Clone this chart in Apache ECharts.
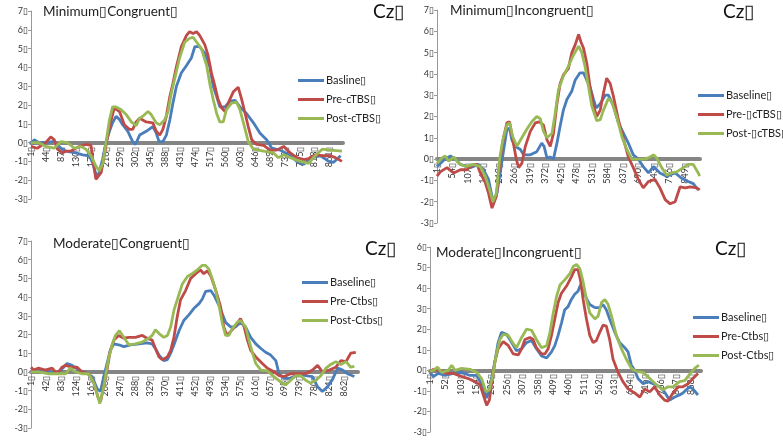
<!DOCTYPE html>
<html><head><meta charset="utf-8">
<script src="https://cdn.jsdelivr.net/npm/echarts@6/dist/echarts.min.js"></script>
<style>html,body{margin:0;padding:0;background:#fff}#c{width:783px;height:440px}</style>
</head><body><div id="c"></div>
<script>
const BOX = '\u25AF';
const categories = Array.from({length: 900}, (_, i) => String(i + 1));
const labelStep = [43, 53, 41, 51];
const yMin = [-3, -3, -3, -3];
const yMax = [7, 7, 7, 6];
const titles = ['Minimum' + BOX + 'Congruent' + BOX, 'Minimum' + BOX + 'Incongruent' + BOX,
                'Moderate' + BOX + 'Congruent' + BOX, 'Moderate' + BOX + 'Incongruent' + BOX];
const electrode = 'Cz' + BOX;
const legendNames = [
  ['Basline' + BOX, 'Pre-cTBS' + BOX, 'Post-cTBS' + BOX],
  ['Baseline' + BOX, 'Pre-' + BOX + 'cTBS' + BOX, 'Post-' + BOX + 'cTBS' + BOX],
  ['Baseline' + BOX, 'Pre-Ctbs' + BOX, 'Post-Ctbs' + BOX],
  ['Baseline' + BOX, 'Pre-Ctbs' + BOX, 'Post-Ctbs' + BOX]
];

// [sample, microvolts]
const p1Base = [[1,-0.05],[10,0.15],[24,0],[43,0],[68,0.07],[87,-0.3],[101,-0.45],[130,-0.55],[150,-0.65],[169,-0.7],[179,-1.1],[190,-1.8],[197,-1.6],[207,-0.9],[217,0],[227,0.6],[236,1.05],[246,1.4],[255,1.25],[265,0.95],[280,0.6],[294,0.05],[302,-0.1],[314,0.4],[333,0.6],[352,0.85],[362,0.5],[370,0.05],[381,0.05],[391,0.4],[401,1.2],[410,2.1],[420,3.0],[434,3.7],[449,4.1],[463,4.5],[473,5.1],[487,5.1],[502,4.75],[516,4.05],[526,3.0],[536,2.45],[545,1.9],[560,1.9],[574,2.2],[589,2.25],[603,1.9],[622,1.55],[642,1.05],[661,0.5],[680,0.15],[695,-0.3],[719,-0.4],[748,-0.7],[767,-1.0],[787,-1.15],[806,-0.8],[835,-0.7],[859,-1.0],[873,-1.05],[893,-0.7]];
const p1Pre = [[1,-0.2],[19,-0.3],[43,0],[58,0.3],[68,0.15],[77,-0.35],[92,-0.55],[101,-0.45],[116,-0.45],[140,-0.2],[159,-0.1],[174,-0.15],[179,-0.9],[188,-1.95],[193,-2.05],[203,-1.6],[212,-0.7],[222,0.35],[232,1.2],[241,1.85],[256,1.65],[270,0.95],[285,0.7],[294,0.7],[304,1.1],[314,1.3],[333,1.1],[352,1.05],[362,0.6],[372,0.4],[381,0.7],[391,1.4],[401,2.45],[410,3.15],[420,4.05],[434,5.1],[449,5.7],[458,5.9],[468,5.8],[478,5.9],[487,5.7],[502,5.2],[511,4.65],[521,3.7],[531,3.0],[540,2.3],[550,1.85],[560,1.65],[574,2.3],[584,2.7],[598,2.95],[608,2.3],[618,1.55],[627,0.85],[637,0.15],[651,-0.1],[671,-0.15],[690,-0.4],[709,-0.4],[729,-0.2],[748,-0.55],[767,-0.8],[787,-0.9],[801,-0.85],[820,-0.65],[844,-0.7],[864,-0.7],[878,-0.8],[897,-1.0]];
const p1Post = [[1,0],[24,0],[43,-0.2],[68,-0.3],[87,0.05],[106,0],[126,-0.3],[145,-0.2],[159,-0.35],[174,-0.7],[188,-1.25],[198,-1.5],[208,-1.1],[217,0],[227,1.2],[236,1.9],[246,1.9],[261,1.75],[275,1.5],[290,1.1],[304,0.9],[314,1.3],[323,1.4],[338,1.65],[347,1.5],[362,1.05],[372,0.95],[386,1.2],[396,1.65],[405,2.6],[415,3.4],[429,4.5],[444,5.35],[458,5.55],[468,5.6],[478,5.35],[492,5.0],[507,4.1],[516,3.15],[526,2.3],[536,1.55],[545,1.1],[555,1.1],[564,1.75],[579,2.1],[593,2.15],[603,1.75],[618,0.7],[627,0.05],[642,-0.35],[671,-0.45],[700,-0.55],[714,-0.8],[729,-0.65],[748,-0.8],[777,-1.0],[801,-1.1],[820,-0.7],[840,-0.35],[864,-0.4],[897,-0.45]];

const p2Base = [[1,-0.35],[24,-0.05],[47,0.15],[64,0],[81,-0.25],[115,-0.4],[143,-0.25],[160,-0.5],[177,-0.95],[189,-1.75],[197,-1.9],[206,-1.6],[217,-0.65],[229,0.45],[240,1.4],[249,1.45],[257,0.9],[268,0.6],[286,0.45],[297,0.2],[320,0.2],[342,0.35],[359,0.75],[367,0.6],[377,0.05],[388,0.1],[399,0],[411,0.75],[422,1.55],[433,2.3],[445,2.8],[462,3.2],[473,3.7],[490,4.05],[502,4.05],[513,3.7],[524,3.4],[536,2.8],[545,2.4],[559,2.6],[576,3.0],[587,3.0],[604,2.5],[621,1.7],[639,1.2],[655,0.75],[672,0.2],[689,0],[706,-0.35],[724,-0.65],[741,-0.35],[763,-0.65],[786,-0.8],[815,-0.65],[837,-0.9],[860,-1.05],[877,-1.15],[894,-1.45]];
const p2Pre = [[1,-0.8],[12,-0.6],[35,-0.4],[58,-0.65],[81,-0.5],[103,-0.5],[126,-0.25],[138,-0.25],[149,-0.65],[166,-1.1],[177,-1.6],[189,-2.3],[194,-2.35],[204,-1.75],[217,0],[229,1.05],[240,1.7],[249,1.75],[260,0.9],[272,0],[280,-0.4],[291,-0.2],[303,0.6],[320,1.3],[337,1.7],[351,1.75],[365,1.6],[377,0.9],[388,0.6],[399,1.2],[411,2.6],[422,3.55],[433,3.95],[450,4.25],[462,5.0],[473,5.35],[485,5.85],[493,5.5],[502,5.2],[513,4.5],[524,3.4],[536,2.5],[547,2.0],[559,2.3],[570,3.1],[581,3.8],[593,3.55],[604,2.95],[621,1.85],[639,0.9],[655,0.1],[672,-0.4],[689,-0.95],[706,-1.35],[724,-1.05],[746,-0.95],[763,-1.35],[781,-1.9],[798,-2.1],[815,-2.0],[832,-1.3],[849,-1.35],[866,-1.3],[889,-1.35],[899,-1.45]];
const p2Post = [[1,-0.2],[18,0.05],[29,0.15],[41,-0.1],[58,0.1],[75,-0.2],[98,-0.35],[126,-0.25],[149,-0.35],[166,-0.8],[181,-1.45],[192,-2.0],[204,-1.6],[215,0],[226,0.9],[240,1.6],[249,1.7],[260,1.05],[274,0.6],[291,1.0],[308,1.4],[325,1.75],[342,2.0],[354,1.9],[365,1.3],[377,1.0],[394,1.2],[405,2.15],[416,3.25],[433,3.9],[450,4.35],[468,4.9],[485,5.3],[496,5.0],[507,4.35],[519,3.4],[530,2.5],[547,1.8],[559,1.85],[570,2.3],[587,2.85],[598,2.7],[615,2.0],[633,1.05],[650,0.45],[667,0],[689,0],[712,0],[729,0.1],[741,0.2],[752,0.05],[769,-0.4],[786,-0.75],[803,-0.65],[820,-0.6],[843,-0.4],[860,-0.25],[877,-0.25],[894,-0.65],[899,-0.8]];

const p3Base = [[1,0.1],[13,0.1],[40,0.1],[59,-0.05],[77,0],[91,0.25],[100,0.45],[114,0.35],[132,0.1],[151,-0.05],[169,-0.25],[183,-0.9],[192,-1.05],[201,-0.25],[210,0.45],[219,1.15],[229,1.5],[242,1.45],[256,1.35],[275,1.45],[298,1.5],[320,1.55],[334,1.5],[343,1.25],[353,0.9],[366,0.6],[376,0.65],[385,1.0],[394,1.45],[408,2.2],[421,2.75],[435,3.05],[449,3.4],[463,3.65],[472,3.9],[481,4.3],[495,4.35],[504,4.1],[518,3.55],[527,3.1],[536,2.65],[550,2.4],[563,2.4],[577,2.65],[591,2.4],[605,1.85],[619,1.5],[633,1.25],[646,1.05],[660,0.9],[674,0.6],[683,-0.1],[697,-0.35],[711,-0.35],[724,-0.25],[738,-0.1],[756,-0.2],[775,-0.25],[789,-0.8],[802,-1.05],[816,-0.8],[830,-0.4],[844,0.2],[858,0.1],[871,-0.1],[890,-0.25]];
const p3Pre = [[1,0.25],[8,0.1],[22,0.2],[40,0.1],[59,0.2],[73,-0.1],[86,0.25],[96,0.35],[114,0.25],[128,0.25],[141,0],[160,-0.1],[174,-0.6],[186,-1.4],[192,-1.6],[201,-0.8],[210,0.1],[219,1.15],[229,1.7],[242,1.95],[256,1.8],[270,1.85],[288,1.85],[307,1.95],[320,1.8],[334,1.7],[343,1.25],[353,0.8],[362,0.65],[376,0.8],[385,1.15],[394,1.85],[403,2.95],[412,3.85],[426,4.35],[440,5.0],[454,5.25],[467,5.45],[476,5.25],[486,5.4],[495,5.15],[504,4.65],[513,4.1],[522,3.5],[531,2.4],[540,1.95],[554,2.25],[568,2.6],[577,2.85],[587,2.4],[596,1.7],[605,1.15],[619,0.8],[637,0.45],[651,0.2],[665,0.05],[683,-0.2],[697,-0.25],[715,-0.1],[738,-0.1],[756,-0.1],[775,0.1],[789,0.35],[802,0],[821,0.1],[839,0.25],[853,0.6],[867,0.55],[880,1.0],[894,1.05]];
const p3Post = [[1,0],[22,0],[50,-0.1],[73,-0.1],[96,-0.1],[109,0.2],[123,0],[141,-0.1],[160,-0.1],[174,-0.6],[186,-1.4],[190,-1.7],[201,-0.8],[213,0.6],[224,1.45],[233,1.95],[244,2.2],[256,1.85],[270,1.45],[288,1.5],[307,1.6],[325,1.8],[334,1.95],[343,2.25],[353,2.05],[366,1.85],[376,1.95],[385,2.4],[394,3.3],[403,3.85],[417,4.7],[431,5.1],[444,5.25],[458,5.45],[472,5.7],[481,5.7],[490,5.5],[499,5.0],[509,4.35],[518,3.55],[527,2.6],[536,1.95],[545,1.95],[554,2.3],[568,2.65],[577,2.75],[591,2.4],[600,1.7],[610,1.0],[619,0.45],[633,0.1],[651,0.05],[669,-0.25],[688,-0.55],[701,-0.7],[715,-0.45],[729,-0.2],[743,-0.2],[756,-0.45],[770,-0.6],[784,-0.45],[798,-0.2],[812,0.2],[825,0.4],[839,0.55],[853,0.4],[867,0.55],[880,0.25],[890,0.3]];

const p4Base = [[1,-0.1],[12,-0.3],[29,-0.15],[51,-0.25],[78,-0.15],[106,-0.1],[134,-0.25],[156,-0.25],[172,-0.65],[183,-1.05],[189,-1.35],[198,-0.95],[205,-0.4],[216,0.4],[227,1.35],[238,1.85],[255,1.75],[272,1.35],[288,0.95],[305,1.05],[321,1.35],[338,1.45],[354,1.05],[371,0.7],[388,0.6],[404,0.9],[415,1.2],[426,1.7],[437,2.3],[448,2.95],[459,3.1],[470,3.45],[481,3.7],[492,3.85],[500,4.15],[509,3.9],[520,3.5],[531,3.2],[548,3.05],[564,3.05],[575,3.2],[586,2.95],[597,2.5],[614,1.85],[630,1.35],[647,1.1],[658,0.9],[669,0.25],[680,0],[691,-0.4],[708,-0.65],[724,-0.55],[741,-0.65],[763,-0.8],[779,-1.05],[796,-1.45],[813,-1.3],[829,-1.2],[840,-1.1],[851,-0.95],[862,-0.8],[873,-0.9],[890,-1.2]];
const p4Pre = [[1,-0.1],[12,0.05],[34,0],[56,-0.15],[78,-0.15],[106,-0.3],[128,-0.4],[150,-0.55],[167,-0.7],[178,-1.2],[189,-1.7],[198,-1.45],[205,-0.7],[216,0.4],[227,1.05],[244,1.4],[261,1.2],[277,0.8],[294,0.75],[305,1.05],[316,1.5],[332,1.6],[343,1.5],[354,1.1],[371,0.8],[382,0.8],[393,1.05],[404,1.7],[415,2.5],[426,3.3],[437,3.75],[454,4.1],[470,4.55],[481,4.9],[492,4.9],[500,4.4],[509,3.45],[520,2.5],[531,1.7],[542,1.35],[553,1.45],[564,1.85],[575,2.2],[586,2.15],[597,1.5],[608,0.55],[625,-0.1],[641,-0.55],[658,-0.9],[680,-1.1],[697,-1.3],[713,-0.9],[730,-1.05],[746,-0.8],[763,-1.2],[779,-1.45],[790,-1.5],[807,-1.1],[824,-0.8],[840,-0.8],[857,-0.65],[873,-0.4],[890,-0.15]];
const p4Post = [[1,-0.05],[12,0],[26,0.15],[40,-0.1],[62,0],[73,0.25],[84,0],[106,0.1],[134,0.05],[156,-0.1],[172,-0.4],[187,-1.05],[198,-0.95],[209,-0.25],[220,0.7],[233,1.5],[244,1.75],[261,1.7],[277,1.3],[288,1.1],[305,1.6],[321,2.0],[338,1.95],[354,1.5],[371,1.1],[388,1.2],[399,1.85],[410,2.8],[421,3.6],[432,4.15],[448,4.4],[465,4.7],[476,5.05],[487,5.15],[498,4.95],[509,4.3],[520,3.45],[531,2.8],[548,2.5],[559,2.65],[570,3.3],[581,3.45],[592,3.2],[603,2.65],[619,1.7],[636,1.05],[652,0.55],[669,0.1],[686,-0.05],[708,-0.1],[730,-0.4],[752,-0.7],[774,-0.95],[790,-0.8],[807,-0.8],[829,-0.55],[846,-0.5],[862,-0.2],[879,0.1],[893,0.25]];

const panelData = [[p1Base, p1Pre, p1Post], [p2Base, p2Pre, p2Post], [p3Base, p3Pre, p3Post], [p4Base, p4Pre, p4Post]];

// layout
const FONT = 'Lato, "Open Sans", sans-serif';
const colors = ['#4A7EBB', '#BE4B48', '#98B954'];
const grids = [
  {left: 31, top: 11, width: 312, height: 188},
  {left: 437, top: 10, width: 263, height: 213},
  {left: 31, top: 241, width: 327, height: 187},
  {left: 430, top: 247, width: 271, height: 185}
];
const titlePos = [[43, 5], [450, 4], [53, 237], [436, 246]];
const czPos = [[373, 2], [723, 2], [365, 239], [715, 239]];
const legendPos = [[298, 75], [698, 90], [302, 277], [693, 312]];

const option = {
  animation: false,
  backgroundColor: '#fff',
  grid: grids,
  title: [],
  legend: [],
  xAxis: [], yAxis: [], series: []
};
for (let p = 0; p < 4; p++) {
  const zeroOffset = grids[p].height * (0 - yMin[p]) / (yMax[p] - yMin[p]);
  option.title.push({text: titles[p], left: titlePos[p][0], top: titlePos[p][1], padding: 0,
    textStyle: {fontFamily: FONT, fontSize: 13.5, fontWeight: 'normal', color: '#222'}});
  option.title.push({text: electrode, left: czPos[p][0], top: czPos[p][1], padding: 0,
    textStyle: {fontFamily: FONT, fontSize: 19, fontWeight: 'normal', color: '#111'}});
  option.legend.push({data: legendNames[p], orient: 'vertical', left: legendPos[p][0], top: legendPos[p][1],
    padding: 0, itemGap: 8, itemWidth: 26, itemHeight: 3, icon: 'rect',
    textStyle: {fontFamily: FONT, fontSize: 11, color: '#222', padding: [0, 0, 0, -3]}});
  option.xAxis.push({type: 'category', gridIndex: p, data: categories, boundaryGap: false,
    position: 'bottom', offset: -zeroOffset,
    axisLine: {onZero: false, lineStyle: {color: '#858585', width: 4}},
    axisTick: {show: false},
    axisLabel: {interval: labelStep[p] - 1, rotate: 90, fontFamily: FONT, fontSize: 9, color: '#333', margin: 4,
      formatter: v => v + BOX},
    splitLine: {show: false}});
  option.yAxis.push({type: 'value', gridIndex: p, min: yMin[p], max: yMax[p], interval: 1,
    axisLine: {show: true, lineStyle: {color: '#999', width: 1}},
    axisTick: {show: true, length: 3, lineStyle: {color: '#999'}},
    axisLabel: {fontFamily: FONT, fontSize: 9, color: '#333', margin: 3, formatter: v => v + BOX},
    splitLine: {show: false}});
  for (let k = 0; k < 3; k++) {
    option.series.push({type: 'line', name: legendNames[p][k], xAxisIndex: p, yAxisIndex: p,
      showSymbol: false, symbol: 'none', color: colors[k], z: 3,
      lineStyle: {width: 2.8, color: colors[k]},
      data: panelData[p][k].map(d => [d[0] - 1, d[1]])});
  }
}
const chart = echarts.init(document.getElementById('c'), null, {renderer: 'canvas'});
chart.setOption(option);
</script></body></html>
